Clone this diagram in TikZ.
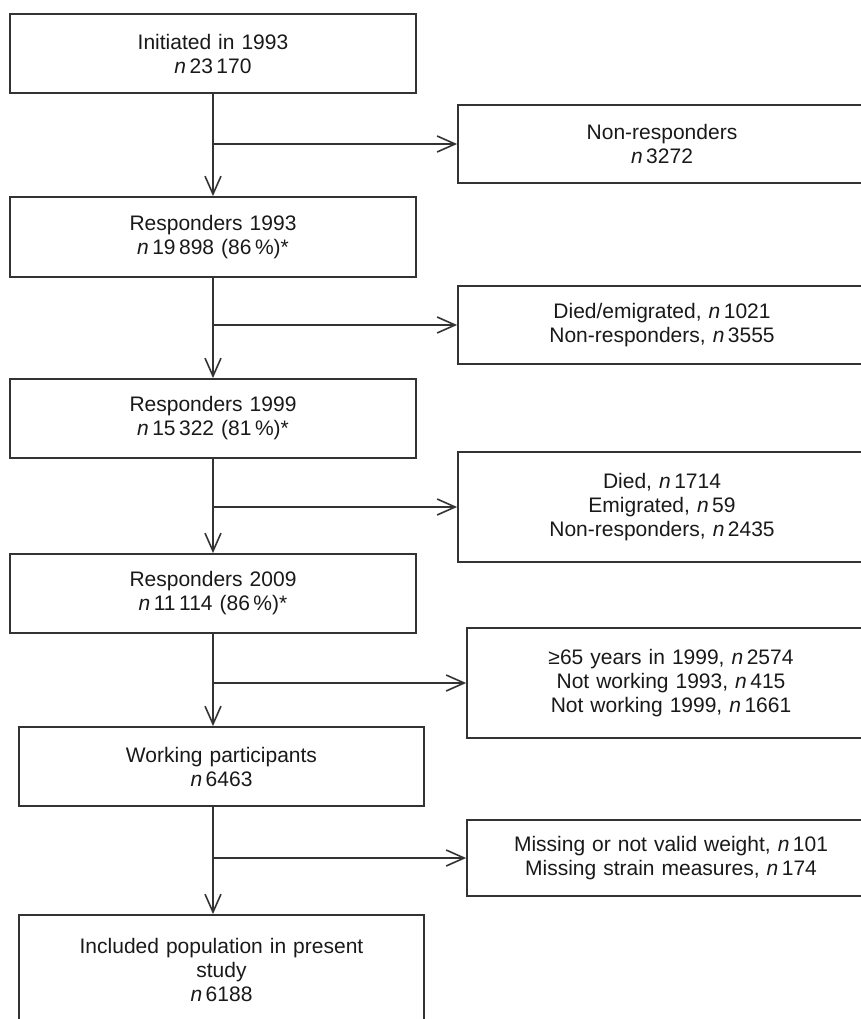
\documentclass[tikz,border=0pt]{standalone}
\usepackage{fontspec}
\setmainfont{Liberation Sans}
\usepackage{tikz}
\usetikzlibrary{arrows.meta}

\begin{document}
\begin{tikzpicture}[x=1pt,y=-1pt]
		\tikzstyle{box} = [draw=black!80, line width=1.8, inner sep=0, minimum height=79, text width=406, text centered, text=black!90, font=\fontsize{21pt}{24pt}\selectfont]
		\tikzstyle{side} = [box, text width=408]
		\tikzstyle{arr} = [draw=black!80, line width=1.6, -{Straight Barb[length=18pt,width=16pt]}]
		\useasboundingbox (0,0) rectangle (861,1019);
		\clip (0,0) rectangle (861,1019);
		% main column
		\node [box] (b1) at (213,53.5) {Initiated in 1993\\ \textit{n}\,23\,170};
		\node [box, minimum height=80] (b2) at (213,237) {Responders 1993\\ \textit{n}\,19\,898 (86\,\%)*};
		\node [box] (b3) at (213,418.5) {Responders 1999\\ \textit{n}\,15\,322 (81\,\%)*};
		\node [box] (b4) at (213,593.5) {Responders 2009\\ \textit{n}\,11\,114 (86\,\%)*};
		\node [box, text width=405] (b5) at (221.5,766.5) {Working participants\\ \textit{n}\,6463};
		\node [box, text width=405, minimum height=110] (b6) at (221.5,970) {Included population in present\\ study\\ \textit{n}\,6188};
		% excluded
		\node [side, minimum height=78] (s1) at (662,144) {Non-responders\\ \textit{n}\,3272};
		\node [side, minimum height=78] (s2) at (662,325) {Died/emigrated, \textit{n}\,1021\\ Non-responders, \textit{n}\,3555};
		\node [side, minimum height=110] (s3) at (662,507) {Died, \textit{n}\,1714\\ Emigrated, \textit{n}\,59\\ Non-responders, \textit{n}\,2435};
		\node [side, minimum height=110] (s4) at (671,683) {≥65 years in 1999, \textit{n}\,2574\\ Not working 1993, \textit{n}\,415\\ Not working 1999, \textit{n}\,1661};
		\node [side, minimum height=76] (s5) at (671,858) {Missing or not valid weight, \textit{n}\,101\\ Missing strain measures, \textit{n}\,174};
		
		\draw [arr] (b1) -- (b2);
		\draw [arr] (b2) -- (b3);
		\draw [arr] (b3) -- (b4);
		\draw [arr] (b4) -- (b4 |- b5.north);
		\draw [arr] (b5.south -| b4) -- (b4 |- b6.north);
		\draw [arr] (b1 |- s1.west) -- (s1.west);
		\draw [arr] (b2 |- s2.west) -- (s2.west);
		\draw [arr] (b3 |- s3.west) -- (s3.west);
		\draw [arr] (b4 |- s4.west) -- (s4.west);
		\draw [arr] (b4 |- s5.west) -- (s5.west);
		\end{tikzpicture}
\end{document}
